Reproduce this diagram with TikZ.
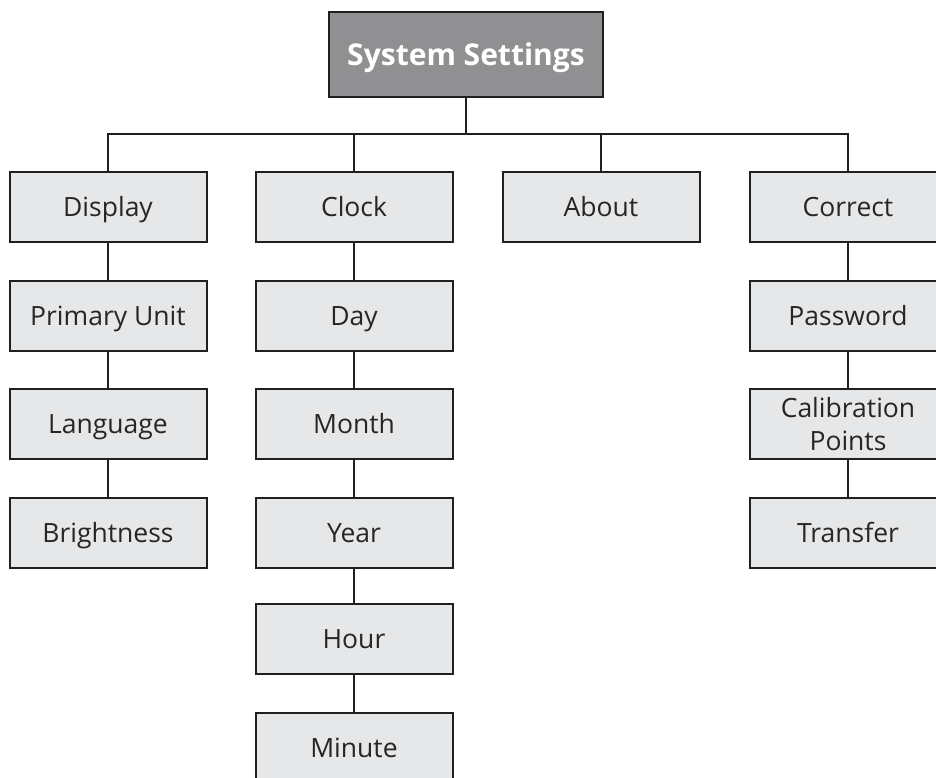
\documentclass[tikz,border=0pt]{standalone}
\usepackage{fontspec}
\setmainfont{Open Sans}
\definecolor{boxfill}{HTML}{E6E7E8}
\definecolor{topfill}{HTML}{909093}
\definecolor{edge}{HTML}{231F20}
\begin{document}
\begin{tikzpicture}[x=1pt,y=-1pt,
  basebox/.style={draw=edge, line width=2pt, fill=boxfill, minimum width=197pt, minimum height=70pt,
    inner sep=0pt, align=center, font=\fontsize{26.5}{33}\selectfont, text=black!85},
  item/.style={basebox, text height=19pt, text depth=0pt},
  topbox/.style={draw=edge, line width=2pt, fill=topfill, minimum width=274pt, minimum height=85pt,
    inner sep=0pt, font=\fontsize{30}{34}\selectfont\bfseries, text=white,
    text height=21.4pt, text depth=0pt},
  link/.style={draw=edge, line width=2pt}]
\useasboundingbox (0,0) rectangle (936,778);
\node[topbox] (sys) at (466,54.5) {System Settings};
\coordinate (bar) at (466,134);
% columns
\node[item] (display) at (108,207) {Display};
\node[item] (primary) at (108,315.5) {Primary Unit};
\node[item] (language) at (108,424) {Language};
\node[item] (bright) at (108,532.5) {Brightness};
\node[item] (clock) at (354,207) {Clock};
\node[item] (day) at (354,315.5) {Day};
\node[item] (month) at (354,424) {Month};
\node[item] (year) at (354,532.5) {Year};
\node[item] (hour) at (354,639) {Hour};
\node[item] (minute) at (354,748) {Minute};
\node[item] (about) at (601,207) {About};
\node[item] (correct) at (848,207) {Correct};
\node[item] (password) at (848,315.5) {Password};
\node[basebox] (calib) at (848,424) {Calibration\\Points};
\node[item] (transfer) at (848,532.5) {Transfer};
% connectors
\draw[link] (sys.south) -- (sys.south |- bar);
\draw[link] (display.north) |- (correct.north |- bar) -- (correct.north);
\draw[link] (clock.north) -- (clock.north |- bar);
\draw[link] (about.north) -- (about.north |- bar);
\draw[link] (display) -- (primary);
\draw[link] (primary) -- (language);
\draw[link] (language) -- (bright);
\draw[link] (clock) -- (day);
\draw[link] (day) -- (month);
\draw[link] (month) -- (year);
\draw[link] (year) -- (hour);
\draw[link] (hour) -- (minute);
\draw[link] (correct) -- (password);
\draw[link] (password) -- (calib);
\draw[link] (calib) -- (transfer);
\end{tikzpicture}
\end{document}
